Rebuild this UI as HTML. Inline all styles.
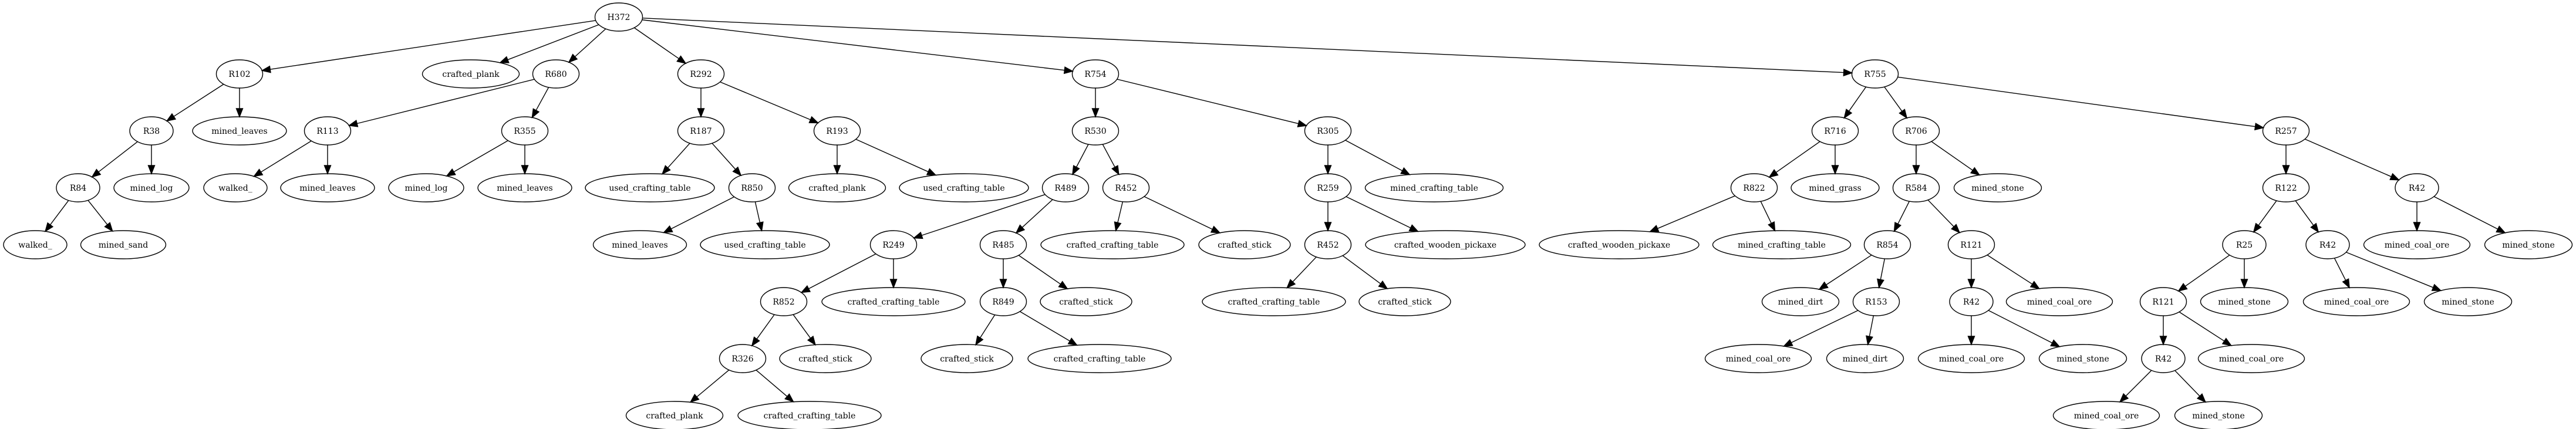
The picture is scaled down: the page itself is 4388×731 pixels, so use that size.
<!DOCTYPE html>
<html><head><meta charset="utf-8"><style>
html,body{margin:0;padding:0;background:#fff;}
svg{display:block;}
text{font-family:"DejaVu Serif","Liberation Serif",serif;font-size:14px;fill:#000;}
</style></head><body>
<svg id="g" width="4388" height="731" xmlns="http://www.w3.org/2000/svg"></svg>
<script>
var N=[
["H372","H372",1054,0,81,null],
["R102","R102",408,1,79,"H372"],
["cp1","crafted_plank",802,1,165,"H372"],
["R680","R680",947,1,79,"H372"],
["R292","R292",1194,1,79,"H372"],
["R754","R754",1866,1,79,"H372"],
["R755","R755",3194,1,79,"H372"],
["R38","R38",258,2,74,"R102"],
["ml1","mined_leaves",408,2,160,"R102"],
["R113","R113",558,2,79,"R680"],
["R355","R355",894,2,79,"R680"],
["R84","R84",133,3,74,"R38"],
["mlog1","mined_log",258,3,128,"R38"],
["w1","walked_",401,3,108,"R113"],
["ml2","mined_leaves",558,3,160,"R113"],
["mlog2","mined_log",726,3,128,"R355"],
["ml3","mined_leaves",894,3,160,"R355"],
["w2","walked_",60,4,108,"R84"],
["ms0","mined_sand",210,4,145,"R84"],
["R187","R187",1194,2,79,"R292"],
["R193","R193",1426,2,79,"R292"],
["uct1","used_crafting_table",1107,3,220,"R187"],
["R850","R850",1281,3,79,"R187"],
["cp2","crafted_plank",1426,3,165,"R193"],
["uct2","used_crafting_table",1642,3,220,"R193"],
["ml4","mined_leaves",1090,4,159,"R850"],
["uct3","used_crafting_table",1303,4,220,"R850"],
["R530","R530",1866,2,79,"R754"],
["R305","R305",2262,2,79,"R754"],
["R489","R489",1815,3,79,"R530"],
["R452","R452",1918,3,79,"R530"],
["cct1","crafted_crafting_table",1895,4,244,"R452"],
["cs1","crafted_stick",2120,4,156,"R452"],
["R249","R249",1522,4,79,"R489"],
["R485","R485",1709,4,79,"R489"],
["R852","R852",1335,5,79,"R249"],
["cct2","crafted_crafting_table",1522,5,244,"R249"],
["R849","R849",1709,5,79,"R485"],
["cs2","crafted_stick",1850,5,156,"R485"],
["R326","R326",1265,6,79,"R852"],
["cs3","crafted_stick",1406,6,156,"R852"],
["cs4","crafted_stick",1647,6,156,"R849"],
["cct3","crafted_crafting_table",1873,6,244,"R849"],
["cp3","crafted_plank",1149,7,165,"R326"],
["cct4","crafted_crafting_table",1379,7,244,"R326"],
["R259","R259",2262,3,79,"R305"],
["mct1","mined_crafting_table",2443,3,235,"R305"],
["R452b","R452",2262,4,79,"R259"],
["cwp1","crafted_wooden_pickaxe",2462,4,272,"R259"],
["cct5","crafted_crafting_table",2170,5,244,"R452b"],
["cs5","crafted_stick",2393,5,156,"R452b"],
["R716","R716",3126,2,79,"R755"],
["R706","R706",3264,2,79,"R755"],
["R257","R257",3894,2,79,"R755"],
["R822","R822",2988,3,79,"R716"],
["mg","mined_grass",3126,3,150,"R716"],
["cwp2","crafted_wooden_pickaxe",2758,4,272,"R822"],
["mct2","mined_crafting_table",3035,4,235,"R822"],
["R584","R584",3264,3,79,"R706"],
["mst1","mined_stone",3403,3,149,"R706"],
["R854","R854",3215,4,79,"R584"],
["R121a","R121",3358,4,79,"R584"],
["md1","mined_dirt",3067,5,131,"R854"],
["R153","R153",3196,5,79,"R854"],
["mco1","mined_coal_ore",2995,6,181,"R153"],
["md2","mined_dirt",3177,6,131,"R153"],
["R42a","R42",3358,5,74,"R121a"],
["mco2","mined_coal_ore",3508,5,181,"R121a"],
["mco3","mined_coal_ore",3358,6,181,"R42a"],
["mst2","mined_stone",3548,6,149,"R42a"],
["R122","R122",3894,3,79,"R257"],
["R42b","R42",4117,3,74,"R257"],
["R25","R25",3823,4,74,"R122"],
["R42c","R42",3965,4,74,"R122"],
["mco4","mined_coal_ore",4117,4,181,"R42b"],
["mst3","mined_stone",4307,4,149,"R42b"],
["R121b","R121",3685,5,79,"R25"],
["mst4","mined_stone",3823,5,149,"R25"],
["mco5","mined_coal_ore",4014,5,181,"R42c"],
["mst5","mined_stone",4204,5,149,"R42c"],
["R42d","R42",3685,6,74,"R121b"],
["mco6","mined_coal_ore",3835,6,181,"R121b"],
["mco7","mined_coal_ore",3588,7,181,"R42d"],
["mst6","mined_stone",3779,7,149,"R42d"]
];
var RY=24,Y0=29,DY=97,M={},s="";
N.forEach(function(n){M[n[0]]={x:n[2],y:Y0+n[3]*DY,rx:n[4]/2,l:n[1],p:n[5]};});
function bd(a,dx,dy){return 1/Math.sqrt(dx*dx/(a.rx*a.rx)+dy*dy/(RY*RY));}
for(var k in M){var c=M[k];if(!c.p)continue;var p=M[c.p];
 var dx=c.x-p.x,dy=c.y-p.y,L=Math.sqrt(dx*dx+dy*dy),ux=dx/L,uy=dy/L;
 var t0=bd(p,ux,uy),t1=bd(c,ux,uy);
 var sx=p.x+ux*t0,sy=p.y+uy*t0,ex=c.x-ux*t1,ey=c.y-uy*t1;
 var ah=14,aw=5.5,bx=ex-ux*ah,by=ey-uy*ah;
 s+='<line x1="'+sx+'" y1="'+sy+'" x2="'+bx+'" y2="'+by+'" stroke="#000" stroke-width="1.4"/>';
 s+='<polygon points="'+ex+','+ey+' '+(bx-uy*aw)+','+(by+ux*aw)+' '+(bx+uy*aw)+','+(by-ux*aw)+'" fill="#000" stroke="#000" stroke-width="1.4"/>';}
for(var k in M){var c=M[k];
 s+='<ellipse cx="'+c.x+'" cy="'+c.y+'" rx="'+c.rx+'" ry="'+RY+'" fill="none" stroke="#000" stroke-width="1.4"/>';
 s+='<text x="'+c.x+'" y="'+(c.y+5)+'" text-anchor="middle">'+c.l+'</text>';}
document.getElementById("g").innerHTML=s;
</script>
</body></html>
